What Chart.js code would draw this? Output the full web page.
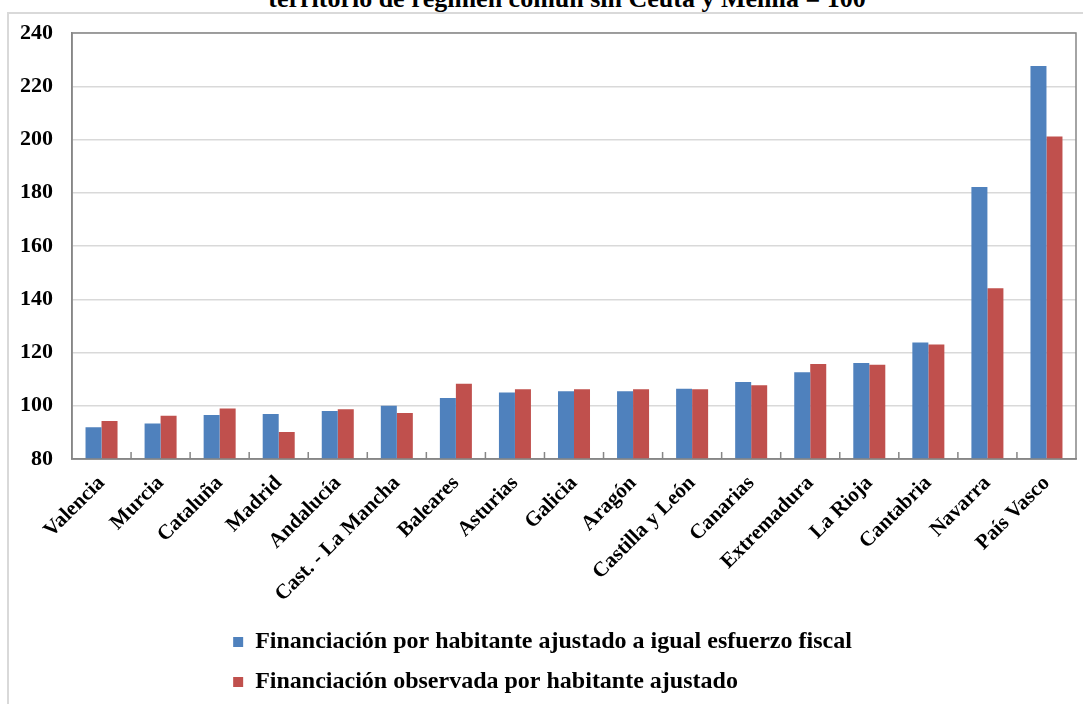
<!DOCTYPE html>
<html lang="es">
<head>
<meta charset="utf-8">
<title>Financiación por habitante ajustado</title>
<script src="https://cdn.jsdelivr.net/npm/chart.js@4.4.1/dist/chart.umd.min.js"></script>
<style>
  html, body { margin: 0; padding: 0; background: #fff; overflow: hidden; }
  body { width: 1083px; height: 704px; position: relative; }
  #title {
    position: absolute; left: 0; width: 1134px; top: -14px;
    text-align: center; white-space: nowrap; color: #000;
    font: bold 26px "Liberation Serif", "Times New Roman", serif; line-height: 26px;
  }
  #frame {
    position: absolute; left: 7px; top: 12px; width: 1200px; height: 800px;
    border-left: 2px solid #d9d9d9; border-top: 2px solid #d9d9d9;
  }
  #box { position: absolute; left: 9px; top: 14px; width: 1074px; height: 690px; }
</style>
</head>
<body>
<div id="title">territorio de régimen común sin Ceuta y Melilla = 100</div>
<div id="frame"></div>
<div id="box"><canvas id="chart"></canvas></div>
<script>
const regiones = ['Valencia', 'Murcia', 'Cataluña', 'Madrid', 'Andalucía', 'Cast. - La Mancha', 'Baleares',
  'Asturias', 'Galicia', 'Aragón', 'Castilla y León', 'Canarias', 'Extremadura', 'La Rioja',
  'Cantabria', 'Navarra', 'País Vasco']

// territorio de régimen común sin Ceuta y Melilla = 100
const esfuerzoFiscal = [91.9, 93.3, 96.5, 96.9, 98.0, 100.0, 102.9, 105.0, 105.4, 105.4, 106.4, 108.9, 112.6, 116.1, 123.8, 182.2, 227.6]
const observada = [94.3, 96.2, 99.0, 90.1, 98.7, 97.3, 108.3, 106.2, 106.2, 106.2, 106.2, 107.7, 115.7, 115.4, 123.0, 144.1, 201.1]

const ejeMin = 80
const ejeMax = 240
const ejePaso = 20

const serif = '"Liberation Serif", "Times New Roman", serif'
const gris = '#868686'

// plot frame + small category ticks pointing up from the axis
const marcoPlot = {
  id: 'marcoPlot',
  afterDraw (chart) {
    const { ctx, chartArea: a } = chart
    const x = chart.scales.x
    ctx.save()
    ctx.strokeStyle = gris
    ctx.lineWidth = 1.5
    ctx.strokeRect(a.left, a.top, a.right - a.left, a.bottom - a.top)
    ctx.beginPath()
    for (let i = 1; i < regiones.length; i++) {
      const px = (x.getPixelForValue(i - 1) + x.getPixelForValue(i)) / 2
      ctx.moveTo(px, a.bottom)
      ctx.lineTo(px, a.bottom - 7)
    }
    ctx.stroke()
    ctx.restore()
  }
}

// both legend rows start at the same x
const leyendaAlineada = {
  id: 'leyendaAlineada',
  beforeDraw (chart) {
    const lg = chart.legend
    if (!lg || !lg.lineWidths) return
    const w = Math.max(...lg.lineWidths)
    lg.lineWidths = lg.lineWidths.map(() => w)
  }
}

new Chart(document.getElementById('chart').getContext('2d'), {
  type: 'bar',
  data: {
    labels: regiones,
    datasets: [
      {
        label: 'Financiación por habitante ajustado a igual esfuerzo fiscal',
        data: esfuerzoFiscal,
        backgroundColor: '#4F81BD'
      },
      {
        label: 'Financiación observada por habitante ajustado',
        data: observada,
        backgroundColor: '#C0504D'
      }
    ]
  },
  options: {
    responsive: true,
    maintainAspectRatio: false,
    devicePixelRatio: 1,
    animation: false,
    categoryPercentage: 0.542,
    barPercentage: 1,
    layout: { padding: { top: 19, right: 7, bottom: 0, left: 0 } },
    plugins: {
      tooltip: { enabled: false },
      legend: {
        position: 'bottom',
        labels: {
          boxWidth: 10,
          boxHeight: 10,
          padding: 16,
          color: '#000',
          font: { family: serif, size: 24, weight: 'bold' }
        }
      }
    },
    scales: {
      x: {
        grid: { display: false, drawTicks: false },
        border: { color: gris, width: 1.5 },
        ticks: {
          autoSkip: false,
          maxRotation: 45,
          minRotation: 45,
          padding: 12,
          color: '#000',
          font: { family: serif, size: 21, weight: 'bold' }
        },
        afterFit: (s) => { s.height = 155 }
      },
      y: {
        min: ejeMin,
        max: ejeMax,
        // invisible tick marks keep the labels 19px left of the axis
        grid: { color: '#d9d9d9', lineWidth: 1.5, drawTicks: true, tickLength: 19, tickColor: 'rgba(0,0,0,0)' },
        border: { color: gris, width: 1.5 },
        ticks: {
          stepSize: ejePaso,
          padding: 0,
          color: '#000',
          font: { family: serif, size: 22, weight: 'bold' }
        },
        afterFit: (s) => { s.width = 63 }
      }
    }
  },
  plugins: [marcoPlot, leyendaAlineada]
})
</script>
</body>
</html>
